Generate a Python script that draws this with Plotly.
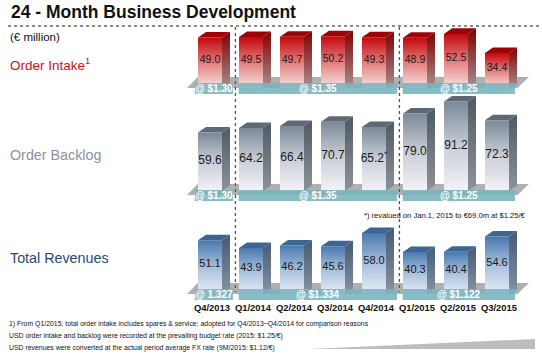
import plotly.graph_objects as go

# ---------------- data ----------------
quarters = ["Q4/2013", "Q1/2014", "Q2/2014", "Q3/2014", "Q4/2014", "Q1/2015", "Q2/2015", "Q3/2015"]
order_intake = [49.0, 49.5, 49.7, 50.2, 49.3, 48.9, 52.5, 34.4]
order_backlog = [59.6, 64.2, 66.4, 70.7, 65.2, 79.0, 91.2, 72.3]
total_revenues = [51.1, 43.9, 46.2, 45.6, 58.0, 40.3, 40.4, 54.6]
backlog_marks = ["", "", "", "", "*", "", "", ""]
group_sizes = [1, 4, 3]
intake_rates = ["@ $1.30", "@ $1.35", "@ $1.25"]
backlog_rates = ["@ $1.30", "@ $1.35", "@ $1.25"]
revenue_rates = ["@ 1.327", "@ $1.334", "@ $1.122"]

W, H = 542, 357
FONT = "Liberation Sans, Arial, sans-serif"
BOLD = "Liberation Sans, Arial, sans-serif"


def xp(px):
    return px / W


def yp(py):
    return 1 - py / H


# x axis: bar i centre at pixel 210 + 41*i
x_unit = 41.0
x0 = -210 / x_unit
x1 = x0 + W / x_unit
hw = 12 / x_unit      # half front width
dx = 8 / x_unit       # depth offset

rows = [
    dict(vals=order_intake, base=89, scale=1.05, yaxis="y", marks=[""] * 8,
         front=[[0, "#f8e6e6"], [0.45, "#e58a8a"], [1, "#c3080c"]],
         side=[[0, "#a89292"], [1, "#800000"]], top="#9c0306",
         band_top=83, rates=intake_rates, tsize=10.5),
    dict(vals=order_backlog, base=191, scale=0.98, yaxis="y2", marks=backlog_marks,
         front=[[0, "#f4f2f8"], [0.5, "#c9ced6"], [1, "#7a8998"]],
         side=[[0, "#8c9299"], [1, "#505a64"]], top="#5d6974",
         band_top=190, rates=backlog_rates, tsize=12),
    dict(vals=total_revenues, base=295, scale=1.07, yaxis="y3", marks=[""] * 8,
         front=[[0, "#eaf0f8"], [0.5, "#a9c1dd"], [1, "#4a79ae"]],
         side=[[0, "#8794a4"], [1, "#465a74"]], top="#3d6592",
         band_top=289, rates=revenue_rates, tsize=11),
]

fig = go.Figure()
shapes = []
annotations = []

# group dividers
dividers = []
acc = 0
for g in group_sizes[:-1]:
    acc += g
    dividers.append(acc - 1 + 0.5 + 0.12)

for r in rows:
    s = r["scale"]
    dy = 5.5 / s
    ya = r["yaxis"]
    for i, v in enumerate(r["vals"]):
        # side face
        fig.add_trace(go.Scatter(
            x=[i + hw, i + hw + dx, i + hw + dx, i + hw, i + hw],
            y=[0, dy, v + dy, v, 0], yaxis=ya, mode="lines", fill="toself",
            line=dict(width=0), fillgradient=dict(type="vertical", colorscale=r["side"]),
            hoverinfo="skip", showlegend=False))
        # top face
        fig.add_trace(go.Scatter(
            x=[i - hw, i + hw, i + hw + dx, i - hw + dx, i - hw],
            y=[v, v, v + dy, v + dy, v], yaxis=ya, mode="lines", fill="toself",
            line=dict(width=0), fillcolor=r["top"], hoverinfo="skip", showlegend=False))
        # front face
        fig.add_trace(go.Scatter(
            x=[i - hw, i + hw, i + hw, i - hw, i - hw],
            y=[0, 0, v, v, 0], yaxis=ya, mode="lines", fill="toself",
            line=dict(width=0), fillgradient=dict(type="vertical", colorscale=r["front"]),
            hoverinfo="skip", showlegend=False))
    vis_base = (r["base"] - r["band_top"]) / s
    labels = []
    for v, m in zip(r["vals"], r["marks"]):
        t = f"{v:.1f}"
        if m:
            t += f"<span style='color:#1010c0'><sup>{m}</sup></span>"
        labels.append(t)
    fig.add_trace(go.Scatter(
        x=list(range(len(r["vals"]))),
        y=[(v + vis_base) / 2 for v in r["vals"]], yaxis=ya,
        mode="text", text=labels, textposition="middle center",
        textfont=dict(family=FONT, size=r["tsize"], color="#1a1a1a"),
        hoverinfo="skip", showlegend=False))

    bt = r["band_top"]
    # platform
    pt, pb = bt - 6, bt + 5
    shapes.append(dict(
        type="path", xref="x", yref="paper", layer="below",
        path=(f"M {-0.56},{yp(pb)} L {-0.30},{yp(pt)} L {7.78},{yp(pt)} "
              f"L {7.50},{yp(pb)} Z"),
        fillcolor="rgba(150,150,150,0.75)", line=dict(width=0)))
    # teal bands
    starts = [-0.37] + [d + 0.08 for d in dividers]
    ends = [d - 0.06 for d in dividers] + [7.44]
    for k, (a, b) in enumerate(zip(starts, ends)):
        shapes.append(dict(
            type="rect", xref="x", yref="paper", layer="above",
            x0=a, x1=b, y0=yp(bt + 11), y1=yp(bt),
            fillcolor="rgba(120,180,190,0.88)", line=dict(width=0)))
        annotations.append(dict(
            x=(a + b) / 2, y=yp(bt + 5.5), xref="x", yref="paper",
            text=f"<b>{r['rates'][k]}</b>", showarrow=False,
            xanchor="center", yanchor="middle",
            font=dict(family=BOLD, size=10, color="white")))

# dotted vertical dividers
for d in dividers:
    shapes.append(dict(type="line", xref="x", yref="paper", layer="above",
                       x0=d, x1=d, y0=yp(27), y1=yp(292),
                       line=dict(color="#555", width=1.3, dash="dot")))

# top dotted rule
shapes.append(dict(type="line", xref="paper", yref="paper",
                   x0=xp(8), x1=1, y0=yp(26), y1=yp(26),
                   line=dict(color="#666", width=1.5, dash="dot")))

# bottom-right wedge
shapes.append(dict(type="path", xref="paper", yref="paper",
                   path=f"M {xp(310)},{yp(349)} L {xp(535)},{yp(339)} L {xp(535)},{yp(349)} Z",
                   fillcolor="#bdbdbd", line=dict(width=0)))

# quarter labels
for i, q in enumerate(quarters):
    annotations.append(dict(x=i + 0.05, y=yp(307), xref="x", yref="paper", text=f"<b>{q}</b>",
                            showarrow=False, xanchor="center", yanchor="middle",
                            font=dict(family=BOLD, size=9.4, color="#111")))

# texts
def txt(x, y, t, size, color="#111", anchor="left", family=FONT):
    annotations.append(dict(x=xp(x), y=yp(y), xref="paper", yref="paper", text=t,
                            showarrow=False, xanchor=anchor, yanchor="middle",
                            font=dict(family=family, size=size, color=color)))

txt(9, 12, "<b>24 - Month Business Development</b>", 17.5, "#111")
txt(8, 37, "(€ million)", 11.5, "#111")
txt(8, 64, "Order Intake<sup>1</sup>", 13.5, "#d0101a")
txt(8, 155, "Order Backlog", 14.3, "#8a929b")
txt(8, 258, "Total Revenues", 14.3, "#1f4a78")
txt(528, 215, "*) revalued on Jan.1, 2015 to €69.0m at $1.25/€", 7.6, "#111", anchor="right")
txt(7, 324, "1) From Q1/2015, total order intake includes spares &amp; service; adopted for Q4/2013~Q4/2014 for comparison reasons", 6.9)
txt(7, 336, "USD order intake and backlog were recorded at the prevailing budget rate (2015: $1.25/€)", 6.9)
txt(7, 348, "USD revenues were converted at the actual period average FX rate (9M/2015: $1.12/€)", 6.9)

layout_axes = {}
for k, r in enumerate(rows):
    name = "yaxis" if k == 0 else f"yaxis{k + 1}"
    ax = dict(range=[(r["base"] - H) / r["scale"], r["base"] / r["scale"]],
              domain=[0, 1], visible=False, fixedrange=True)
    if k > 0:
        ax["overlaying"] = "y"
    layout_axes[name] = ax

fig.update_layout(
    width=W, height=H, margin=dict(l=0, r=0, t=0, b=0),
    paper_bgcolor="white", plot_bgcolor="white",
    xaxis=dict(range=[x0, x1], visible=False, fixedrange=True),
    shapes=shapes, annotations=annotations, showlegend=False,
    **layout_axes,
)

fig.write_html("out.html", config={"displayModeBar": False},
               post_script="document.body.style.margin='0';document.body.style.overflow='hidden';")
